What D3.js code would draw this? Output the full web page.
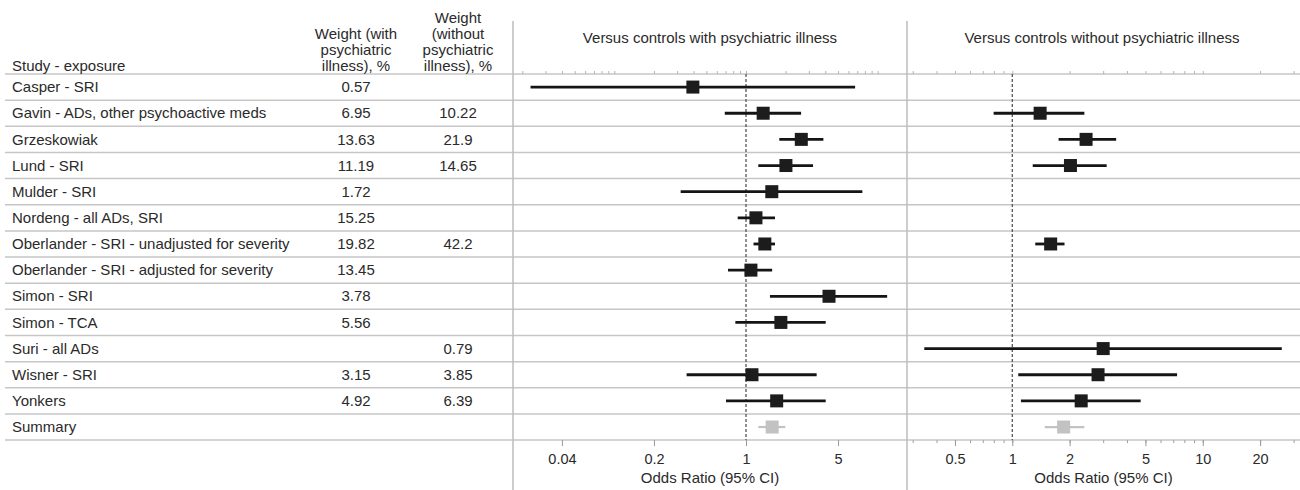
<!DOCTYPE html>
<html>
<head>
<meta charset="utf-8">
<script src="https://cdn.jsdelivr.net/npm/d3@7"></script>
<style>
  body { margin: 0; background: #fff; }
  svg text { font-family: "Liberation Sans", Arial, sans-serif; fill: #2a2a2a; }
</style>
</head>
<body>
<svg id="chart" width="1300" height="490"></svg>
<script>
var studies = [
	"Casper - SRI",
	"Gavin - ADs, other psychoactive meds",
	"Grzeskowiak",
	"Lund - SRI",
	"Mulder - SRI",
	"Nordeng - all ADs, SRI",
	"Oberlander - SRI - unadjusted for severity",
	"Oberlander - SRI - adjusted for severity",
	"Simon - SRI",
	"Simon - TCA",
	"Suri - all ADs",
	"Wisner - SRI",
	"Yonkers",
	"Summary"
];
var weightWith    = ["0.57", "6.95", "13.63", "11.19", "1.72", "15.25", "19.82", "13.45", "3.78", "5.56", "", "3.15", "4.92", ""];
var weightWithout = ["", "10.22", "21.9", "14.65", "", "", "42.2", "", "", "", "0.79", "3.85", "6.39", ""];

// versus controls with psychiatric illness
var orWith = [0.395, 1.35, 2.63, 2.01, 1.57, 1.19, 1.39, 1.09, 4.27, 1.84, null, 1.11, 1.71, 1.58];
var loWith = [0.0231, 0.69, 1.79, 1.24, 0.319, 0.865, 1.14, 0.73, 1.52, 0.83, null, 0.354, 0.705, 1.24];
var hiWith = [6.74, 2.62, 3.87, 3.23, 7.65, 1.66, 1.66, 1.58, 11.8, 4.03, null, 3.44, 4.03, 1.99];

// versus controls without psychiatric illness
var orWithout = [null, 1.40, 2.44, 2.02, null, null, 1.59, null, null, null, 3.0, 2.82, 2.30, 1.86];
var loWithout = [null, 0.798, 1.75, 1.28, null, null, 1.32, null, null, null, 0.345, 1.075, 1.11, 1.48];
var hiWithout = [null, 2.39, 3.51, 3.13, null, null, 1.88, null, null, null, 26.0, 7.33, 4.72, 2.39];

var ticksWith = [0.04, 0.2, 1, 5];
var ticksWithout = [0.5, 1, 2, 5, 10, 20];

var svg = d3.select("#chart"),
	width = +svg.attr("width"),
	height = +svg.attr("height");

var rowTop = 74,
	rowH = 26.15,
	rowBottom = rowTop + studies.length * rowH;

var xWith = d3.scaleLog().domain([0.017, 16.7]).range([513, 907]),
	xWithout = d3.scaleLog().domain([0.28, 32.4]).range([907, 1300]);

// horizontal grid
svg.append("g").selectAll("line")
	.data(d3.range(studies.length + 1))
	.enter().append("line")
	.attr("x1", 5).attr("x2", width)
	.attr("y1", function(d) { return rowTop + d * rowH; })
	.attr("y2", function(d) { return rowTop + d * rowH; })
	.attr("stroke", "#c6c6c6").attr("stroke-width", 1.5);

// panel separators
svg.append("g").selectAll("line")
	.data([513, 907])
	.enter().append("line")
	.attr("x1", function(d) { return d; }).attr("x2", function(d) { return d; })
	.attr("y1", 21).attr("y2", height)
	.attr("stroke", "#bdbdbd").attr("stroke-width", 1.5);

// headers
var head = svg.append("g").attr("font-size", 15);
head.append("text").attr("x", 12).attr("y", 70.5).text("Study - exposure");
head.selectAll(".h1").data(["Weight (with", "psychiatric", "illness), %"])
	.enter().append("text")
	.attr("x", 356).attr("y", function(d, i) { return 38.5 + i * 16; })
	.attr("text-anchor", "middle").text(function(d) { return d; });
head.selectAll(".h2").data(["Weight", "(without", "psychiatric", "illness), %"])
	.enter().append("text")
	.attr("x", 458).attr("y", function(d, i) { return 22.5 + i * 16; })
	.attr("text-anchor", "middle").text(function(d) { return d; });
head.append("text").attr("x", 710).attr("y", 42.5).attr("text-anchor", "middle")
	.text("Versus controls with psychiatric illness");
head.append("text").attr("x", 1102).attr("y", 42.5).attr("text-anchor", "middle")
	.text("Versus controls without psychiatric illness");

// table rows
var rowY = function(i) { return rowTop + (i + 0.5) * rowH; };
var rows = svg.append("g").attr("font-size", 15);
rows.selectAll(".study").data(studies).enter().append("text")
	.attr("x", 12).attr("y", function(d, i) { return rowY(i) + 5.2; })
	.text(function(d) { return d; });
rows.selectAll(".w1").data(weightWith).enter().append("text")
	.attr("x", 356).attr("y", function(d, i) { return rowY(i) + 5.2; })
	.attr("text-anchor", "middle").text(function(d) { return d; });
rows.selectAll(".w2").data(weightWithout).enter().append("text")
	.attr("x", 458).attr("y", function(d, i) { return rowY(i) + 5.2; })
	.attr("text-anchor", "middle").text(function(d) { return d; });

function panel(x, est, lo, hi, majors, minorBottom, title) {
	var g = svg.append("g");

	// small log ticks along the top
	var top = g.append("g").attr("transform", "translate(0," + rowTop + ")")
		.call(d3.axisTop(x).ticks(20).tickSize(3).tickFormat(""));
	top.select(".domain").remove();
	top.selectAll("line").attr("stroke", "#b5b5b5");

	// bottom axis
	if (minorBottom) {
		var minor = g.append("g").attr("transform", "translate(0," + rowBottom + ")")
			.call(d3.axisBottom(x).ticks(20).tickSize(3).tickFormat(""));
		minor.select(".domain").remove();
		minor.selectAll("line").attr("stroke", "#a0a0a0");
	}
	var bottom = g.append("g").attr("transform", "translate(0," + rowBottom + ")")
		.call(d3.axisBottom(x).tickValues(majors).tickSize(6).tickPadding(8)
			.tickFormat(function(d) { return d3.format("~g")(d); }));
	bottom.select(".domain").remove();
	bottom.selectAll("line").attr("stroke", "#999");
	bottom.selectAll("text").attr("font-size", 14.5).attr("font-family", null).attr("fill", null);

	g.append("text")
		.attr("x", (x.range()[0] + x.range()[1]) / 2).attr("y", 483)
		.attr("text-anchor", "middle").attr("font-size", 15)
		.text(title);

	// no-effect line
	g.append("line")
		.attr("x1", x(1)).attr("x2", x(1))
		.attr("y1", rowTop).attr("y2", rowBottom)
		.attr("stroke", "#555").attr("stroke-width", 1.3)
		.attr("stroke-dasharray", "3,2");

	var idx = d3.range(est.length).filter(function(i) { return est[i] != null; });
	var last = est.length - 1;

	g.selectAll(".ci").data(idx).enter().append("line")
		.attr("x1", function(i) { return x(lo[i]); })
		.attr("x2", function(i) { return x(hi[i]); })
		.attr("y1", function(i) { return rowY(i); })
		.attr("y2", function(i) { return rowY(i); })
		.attr("stroke", function(i) { return i === last ? "#c2c2c2" : "#141414"; })
		.attr("stroke-width", function(i) { return i === last ? 2.2 : 2.8; });

	g.selectAll(".pt").data(idx).enter().append("rect")
		.attr("x", function(i) { return x(est[i]) - 6.5; })
		.attr("y", function(i) { return rowY(i) - 6.5; })
		.attr("width", 13).attr("height", 13)
		.attr("fill", function(i) { return i === last ? "#c2c2c2" : "#1c1c1c"; });
}

panel(xWith, orWith, loWith, hiWith, ticksWith, false, "Odds Ratio (95% CI)");
panel(xWithout, orWithout, loWithout, hiWithout, ticksWithout, true, "Odds Ratio (95% CI)");
</script>
</body>
</html>
